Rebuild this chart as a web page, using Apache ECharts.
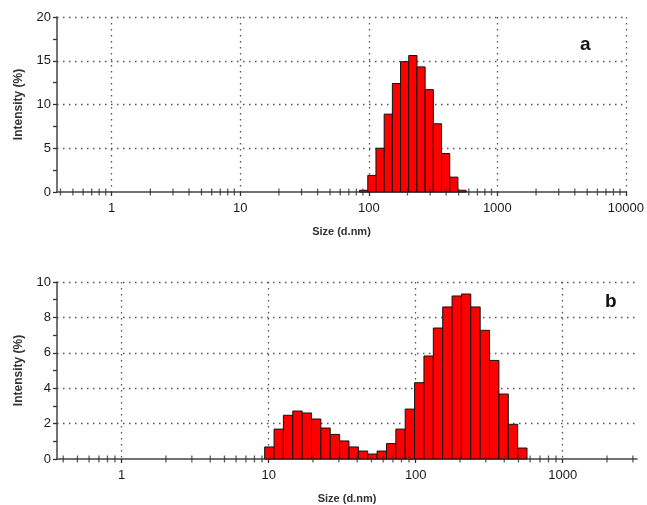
<!DOCTYPE html>
<html>
<head>
<meta charset="utf-8">
<script src="https://cdn.jsdelivr.net/npm/echarts@6/dist/echarts.min.js"></script>
<style>
  html, body { margin: 0; padding: 0; background: #fff; }
  #main { width: 647px; height: 505px; }
</style>
</head>
<body>
<div id="main"></div>
<script>
// bin centres (d.nm) and intensities (%)
const sizesA = [91.28, 105.7, 122.4, 141.8, 164.2, 190.1, 220.2, 255.0, 295.3, 342.0, 396.1, 458.7, 531.2]
const intensityA = [0.2, 1.9, 5.0, 8.9, 12.4, 14.9, 15.6, 14.3, 11.7, 7.8, 4.4, 1.7, 0.2]

const sizesB = [10.10, 11.70, 13.54, 15.69, 18.17, 21.04, 24.36, 28.21, 32.67, 37.84, 43.82, 50.75,
  58.77, 68.06, 78.82, 91.28, 105.7, 122.4, 141.8, 164.2, 190.1, 220.2, 255.0, 295.3, 342.0,
  396.1, 458.7, 531.2]
const intensityB = [0.68, 1.69, 2.47, 2.71, 2.60, 2.26, 1.75, 1.39, 1.02, 0.68, 0.45, 0.28,
  0.45, 0.87, 1.69, 2.82, 4.31, 5.82, 7.40, 8.59, 9.21, 9.32, 8.59, 7.27, 5.57,
  3.67, 1.96, 0.62]

const BIN_RATIO = 1.158 // ratio between neighbouring bins

const chart = echarts.init(document.getElementById('main'))

const font = 'Liberation Sans, Arial, sans-serif'
const dotted = { color: '#555', width: 1.3, type: [1.5, 4.5] }

// minor ticks 2..9 of each decade on the log axes
const minorTicks = (lo, hi) => {
    let out = []
    for (let k = -1; k <= 4; k++) {
        for (let m = 2; m <= 9; m++) {
            const v = m * Math.pow(10, k)
            if (v > lo && v < hi) out.push([v, 0])
        }
    }
    return out
}

const histRender = (params, api) => {
    const c = api.value(0)
    const h = Math.sqrt(BIN_RATIO)
    const p0 = api.coord([c / h, 0])
    const p1 = api.coord([c * h, api.value(1)])
    return {
        type: 'rect',
        shape: { x: p0[0], y: p1[1], width: p1[0] - p0[0], height: p0[1] - p1[1] },
        style: { fill: '#ff0000', stroke: '#111', lineWidth: 1 }
    }
}

const xAxisCfg = (idx, min, max) => ({
    type: 'log',
    gridIndex: idx,
    logBase: 10,
    min: min,
    max: max,
    name: 'Size (d.nm)',
    nameLocation: 'middle',
    nameGap: 34,
    nameTextStyle: { fontFamily: font, fontSize: 11, fontWeight: 'bold', color: '#333' },
    axisLine: { lineStyle: { color: '#444', width: 1.5 } },
    axisTick: { length: 4, lineStyle: { color: '#333', width: 1.3 } },
    axisLabel: {
        fontFamily: font, fontSize: 13, color: '#1a1a1a', margin: 10,
        showMinLabel: false,
        showMaxLabel: idx === 0,
        formatter: (v) => String(Math.round(v))
    },
    splitLine: { show: true, showMinLine: false, showMaxLine: idx === 0, lineStyle: dotted }
})

const yAxisCfg = (idx, max, interval) => ({
    type: 'value',
    gridIndex: idx,
    min: 0,
    max: max,
    interval: interval,
    name: 'Intensity (%)',
    nameLocation: 'middle',
    nameGap: 32,
    nameTextStyle: { fontFamily: font, fontSize: 12, fontWeight: 'bold', color: '#333' },
    axisLine: { show: true, lineStyle: { color: '#444', width: 1.5 } },
    axisTick: { show: true, length: 4, lineStyle: { color: '#333', width: 1.3 } },
    minorTick: { show: true, splitNumber: 2, length: 4, lineStyle: { color: '#333', width: 1.3 } },
    axisLabel: { fontFamily: font, fontSize: 13, color: '#1a1a1a', margin: 6 },
    splitLine: { show: true, showMinLine: false, lineStyle: dotted }
})

const minorSeries = (idx, lo, hi) => ({
    type: 'scatter',
    xAxisIndex: idx,
    yAxisIndex: idx,
    data: minorTicks(lo, hi),
    symbol: 'rect',
    symbolSize: [1.3, 7],
    itemStyle: { color: '#333' },
    silent: true,
    z: 5
})

chart.setOption({
    animation: false,
    title: [
        { text: 'a', left: 575, top: 30, textStyle: { fontFamily: font, fontSize: 19, fontWeight: 'bold', color: '#111' } },
        { text: 'b', left: 600, top: 287, textStyle: { fontFamily: font, fontSize: 19, fontWeight: 'bold', color: '#111' } }
    ],
    grid: [
        { left: 57, top: 17, width: 573, height: 175 },
        { left: 57, top: 282, width: 580, height: 177 }
    ],
    xAxis: [xAxisCfg(0, 0.376, 10000), xAxisCfg(1, 0.363, 3200)],
    yAxis: [yAxisCfg(0, 20, 5), yAxisCfg(1, 10, 2)],
    series: [
        {
            type: 'custom',
            xAxisIndex: 0,
            yAxisIndex: 0,
            renderItem: histRender,
            data: sizesA.map((s, i) => [s, intensityA[i]]),
            z: 3
        },
        {
            type: 'custom',
            xAxisIndex: 1,
            yAxisIndex: 1,
            renderItem: histRender,
            data: sizesB.map((s, i) => [s, intensityB[i]]),
            z: 3
        },
        minorSeries(0, 0.376, 10000),
        minorSeries(1, 0.363, 3200)
    ]
})
</script>
</body>
</html>
